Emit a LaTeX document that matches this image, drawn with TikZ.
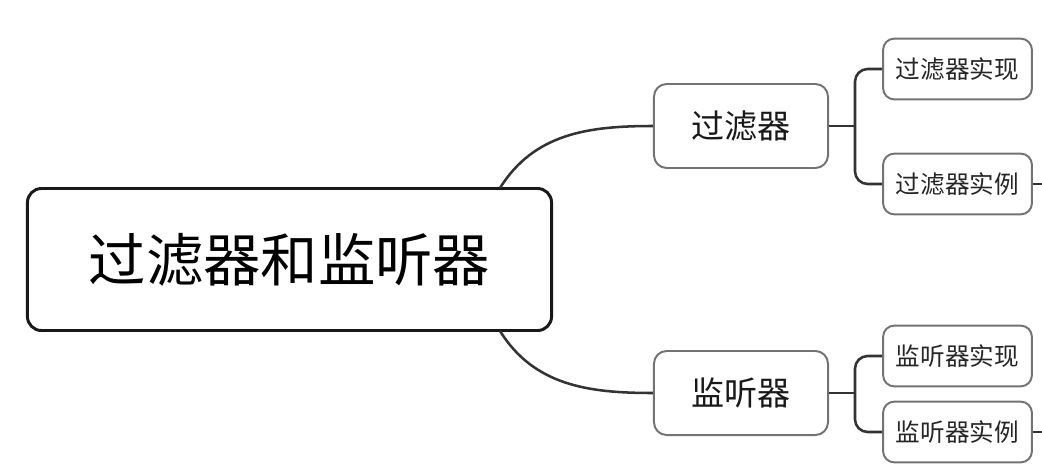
\documentclass[tikz,border=0pt]{standalone}
\usepackage{fontspec}
\setmainfont{Noto Sans CJK SC}
\begin{document}
\begin{tikzpicture}[x=0.025cm, y=-0.025cm,
    rootbox/.style={draw=black!90, line width=2.1pt, rounded corners=10pt, fill=white,
        minimum width=13.1cm, minimum height=3.55cm, font=\fontsize{40.8}{46}\selectfont},
    midbox/.style={draw=black!55, line width=1.4pt, rounded corners=9pt, fill=white,
        minimum width=4.35cm, minimum height=2.1cm, text=black!90, font=\fontsize{23.5}{27}\selectfont},
    leafbox/.style={draw=black!55, line width=1.4pt, rounded corners=8pt, fill=white,
        minimum width=3.72cm, minimum height=1.52cm, text=black!85, font=\fontsize{17.5}{21}\selectfont},
    link/.style={draw=black!80, line width=1.8pt}]
    \useasboundingbox (0,0) rectangle (1042,475);

    \node[rootbox] (root) at (289.5,259.5) {过滤器和监听器};

    \node[midbox] (filter) at (741,126) {过滤器};
    \node[midbox] (listener) at (741,393) {监听器};

    \node[leafbox] (filterimpl) at (957.5,69) {过滤器实现};
    \node[leafbox] (filterex) at (957.5,184) {过滤器实例};
    \node[leafbox] (listenerimpl) at (957.5,356) {监听器实现};
    \node[leafbox] (listenerex) at (957.5,432) {监听器实例};

    % joints
    \coordinate (roottop) at (500,188);
    \coordinate (rootbot) at (500,331);
    \coordinate (fj) at (855,126);
    \coordinate (lj) at (855,393);
    \coordinate (fend) at (1042,184);
    \coordinate (lend) at (1042,432);

    % root to branches
    \draw[link] (roottop) to[out=58, in=180] (filter.west);
    \draw[link] (rootbot) to[out=-58, in=180] (listener.west);

    % branches to leaves
    \draw[link] (filter.east) -- (fj);
    \draw[link, rounded corners=9pt] (fj) |- (filterimpl.west);
    \draw[link, rounded corners=9pt] (fj) |- (filterex.west);
    \draw[link] (listener.east) -- (lj);
    \draw[link, rounded corners=9pt] (lj) |- (listenerimpl.west);
    \draw[link, rounded corners=9pt] (lj) |- (listenerex.west);

    % cut off on the right
    \draw[link] (filterex.east) -- (fend);
    \draw[link] (listenerex.east) -- (lend);
\end{tikzpicture}
\end{document}
